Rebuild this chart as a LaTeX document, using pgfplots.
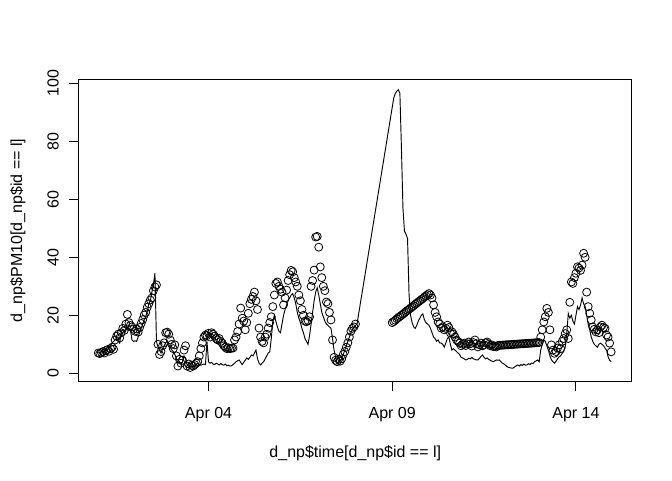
\documentclass[border=0pt]{standalone}
\usepackage{fontspec}
\setmainfont{Liberation Sans}
\usepackage{pgfplots}
\usepackage{pgfplotstable}
\pgfplotsset{compat=1.18}
% hours since Apr 01 00:00, observed PM10
\pgfplotstableread{
h v
0 7.0
1 6.8
2 7.2
3 7.5
4 7.0
5 7.8
6 8.2
7 7.6
8 8.5
9 9.0
10 8.3
11 11.5
12 12.8
13 13.5
14 12.2
15 14.0
16 15.5
17 14.8
18 17.0
19 20.3
20 17.5
21 16.5
22 16.0
23 15.2
24 14.5
25 15.3
26 14.2
27 15.8
28 17.2
29 18.5
30 20.1
31 21.0
32 22.8
33 24.0
34 25.3
35 26.0
36 28.5
37 29.8
38 30.5
39 10.0
40 6.5
41 7.5
42 9.5
43 10.5
44 14.0
45 14.2
46 13.5
47 11.5
48 10.0
49 8.5
50 9.8
51 6.0
52 2.5
53 4.8
54 3.5
55 4.5
56 8.0
57 9.5
58 2.5
59 3.2
60 2.0
61 2.8
62 2.5
63 3.0
64 3.5
65 4.0
66 6.0
67 8.5
68 10.5
69 12.5
70 13.2
71 13.0
72 13.8
73 12.5
74 14.0
75 13.5
76 12.8
77 12.0
78 11.5
79 12.0
80 11.0
81 10.4
82 9.5
83 9.0
84 8.5
85 8.8
86 8.5
87 8.7
88 8.7
89 11.5
90 12.5
91 14.4
92 17.0
93 22.5
94 19.0
95 18.0
96 15.0
97 17.5
98 20.7
99 24.0
100 25.5
101 26.5
102 28.0
103 25.0
104 22.0
105 15.6
106 12.5
107 11.0
108 10.5
109 12.5
110 13.5
111 15.6
112 17.5
113 19.5
114 23.0
115 27.0
116 31.0
117 31.5
118 30.0
119 29.0
120 28.0
121 23.6
122 26.0
123 28.7
124 32.0
125 34.0
126 35.5
127 35.0
128 33.0
129 31.5
130 30.0
131 27.0
132 25.0
133 22.0
134 20.0
135 18.0
136 17.8
137 18.2
138 19.5
139 30.0
140 32.0
141 35.6
142 47.0
143 47.2
144 43.5
145 36.7
146 33.0
147 30.0
148 28.5
149 24.6
150 24.0
151 21.0
152 18.4
153 11.5
154 5.5
155 4.5
156 4.0
157 4.8
158 4.2
159 5.0
160 6.5
161 7.5
162 9.0
163 10.5
164 12.5
165 14.5
166 15.5
167 16.0
168 17.0
192 17.5
193 17.9
194 18.3
195 18.8
196 19.2
197 19.6
198 20.0
199 20.4
200 20.8
201 21.3
202 21.7
203 22.1
204 22.5
205 22.9
206 23.3
207 23.8
208 24.2
209 24.6
210 25.0
211 25.4
212 25.8
213 26.3
214 26.7
215 27.1
216 27.5
217 27.0
218 26.0
219 23.6
220 21.0
221 19.5
222 17.7
223 17.0
224 15.6
225 16.0
226 15.0
227 15.5
228 16.6
229 15.8
230 13.9
231 14.3
232 13.5
233 12.5
234 11.5
235 11.0
236 10.4
237 9.5
238 10.0
239 10.4
240 9.6
241 10.2
242 10.8
243 10.2
244 9.4
245 10.6
246 11.5
247 10.2
248 9.1
249 9.8
250 10.4
251 9.5
252 9.8
253 10.5
254 10.8
255 10.0
256 9.5
257 9.8
258 9.2
259 9.4
260 9.1
261 9.60
262 9.64
263 9.67
264 9.71
265 9.75
266 9.79
267 9.82
268 9.86
269 9.90
270 9.93
271 9.97
272 10.01
273 10.04
274 10.08
275 10.12
276 10.16
277 10.19
278 10.23
279 10.27
280 10.30
281 10.34
282 10.38
283 10.41
284 10.45
285 10.49
286 10.53
287 10.56
288 10.60
289 12.5
290 15.0
291 17.7
292 19.5
293 22.4
294 21.0
295 15.0
296 9.8
297 8.0
298 6.9
299 7.5
300 8.7
301 9.8
302 8.5
303 11.0
304 12.0
305 13.7
306 15.0
307 12.0
308 24.5
309 31.5
310 31.0
311 33.0
312 34.5
313 36.7
314 36.3
315 35.5
316 37.3
317 41.4
318 40.0
319 28.0
320 23.0
321 20.7
322 18.4
323 16.0
324 15.2
325 14.3
326 15.0
327 14.0
328 16.0
329 16.6
330 15.8
331 15.5
332 13.2
333 12.5
334 10.4
335 7.4
}\obs
% second series drawn as a line
\pgfplotstableread{
h v
0 7.0
1 7.2
2 7.5
3 7.3
4 7.8
5 8.2
6 8.0
7 8.8
8 9.5
9 10.5
10 11.0
11 11.5
12 12.0
13 11.2
14 10.4
15 14.5
16 15.0
17 14.0
18 15.5
19 15.0
20 14.8
21 15.0
22 11.5
23 11.0
24 11.2
25 11.0
26 12.5
27 14.0
28 15.5
29 17.0
30 18.5
31 19.5
32 21.5
33 24.0
34 25.0
35 28.0
36 30.5
37 34.5
38 11.0
39 9.0
40 8.0
41 7.0
42 8.5
43 9.5
44 10.5
45 11.0
46 10.0
47 9.0
48 8.0
49 7.5
50 6.5
51 5.0
52 3.5
53 4.0
54 3.0
55 4.0
56 6.0
57 5.0
58 3.0
59 2.5
60 2.0
61 2.5
62 2.2
63 3.0
64 3.0
65 3.5
66 3.0
67 2.8
68 3.0
69 3.2
70 3.0
71 11.0
72 4.0
73 3.5
74 3.8
75 3.2
76 3.0
77 3.5
78 3.2
79 2.9
80 3.4
81 3.0
82 2.8
83 3.2
84 2.6
85 2.8
86 2.5
87 2.6
88 3.0
89 3.5
90 4.0
91 4.3
92 4.6
93 3.8
94 3.0
95 3.8
96 4.5
97 5.3
98 4.8
99 5.5
100 6.3
101 6.0
102 7.0
103 8.0
104 5.0
105 3.5
106 2.9
107 3.5
108 4.0
109 5.0
110 6.0
111 7.0
112 7.4
113 12.0
114 18.0
115 20.0
116 18.0
117 16.0
118 14.5
119 14.0
120 17.0
121 20.0
122 22.0
123 23.5
124 25.0
125 26.0
126 27.0
127 27.5
128 26.0
129 24.0
130 21.0
131 19.0
132 17.5
133 15.5
134 14.0
135 12.0
136 11.0
137 10.0
138 13.0
139 17.0
140 21.0
141 25.0
142 28.0
143 29.5
144 27.0
145 24.0
146 21.0
147 19.5
148 18.0
149 17.0
150 16.5
151 16.0
152 15.5
153 12.0
154 8.0
155 5.5
156 3.5
157 3.8
158 4.2
159 5.0
160 6.5
161 8.0
162 9.5
163 11.0
164 12.5
165 14.0
166 15.0
167 16.0
168 16.5
169 17.0
193 95.0
194 96.5
195 97.3
196 97.8
197 96.6
198 78.0
199 57.0
200 49.0
201 48.0
202 46.5
203 27.0
204 20.0
205 17.5
206 16.0
207 15.5
208 16.5
209 18.0
210 19.0
211 20.0
212 20.5
213 18.5
214 17.5
215 17.0
216 16.5
217 15.5
218 14.0
219 12.5
220 12.0
221 11.0
222 11.5
223 10.5
224 10.4
225 10.0
226 9.0
227 10.5
228 12.0
229 12.5
230 10.0
231 8.0
232 8.5
233 8.0
234 7.5
235 7.0
236 6.5
237 5.5
238 5.3
239 5.0
240 4.6
241 4.8
242 5.2
243 5.0
244 5.5
245 5.0
246 4.8
247 4.6
248 4.6
249 5.2
250 5.8
251 6.3
252 5.5
253 5.0
254 5.3
255 4.8
256 4.5
257 4.2
258 4.0
259 4.3
260 4.6
261 4.5
262 4.6
263 4.0
264 3.5
265 3.2
266 2.8
267 2.3
268 2.0
269 1.9
270 1.8
271 1.8
272 2.2
273 2.6
274 2.9
275 2.5
276 3.0
277 2.7
278 3.2
279 2.8
280 2.9
281 3.3
282 3.0
283 3.5
284 3.4
285 4.0
286 4.3
287 4.6
288 4.0
289 8.0
290 10.0
291 11.5
292 11.0
293 9.5
294 8.0
295 6.0
296 4.6
297 4.0
298 3.5
299 4.2
300 5.0
301 5.7
302 6.0
303 6.9
304 7.5
305 9.0
306 13.7
307 20.6
308 19.0
309 20.0
310 18.0
311 17.0
312 20.0
313 23.0
314 22.0
315 23.5
316 26.0
317 24.0
318 23.0
319 20.0
320 17.0
321 15.0
322 12.5
323 11.0
324 10.0
325 9.5
326 9.0
327 10.0
328 10.4
329 10.0
330 9.5
331 8.7
332 8.0
333 5.7
334 4.5
335 4.0
}\model
\begin{document}
\fontsize{12}{14}\selectfont
\begin{tikzpicture}
\begin{axis}[
  at={(0,0)}, anchor=south west,
  scale only axis, width=414.5pt, height=227pt,
  xmin=-12.6, xmax=348.4, ymin=-2.9, ymax=101.5,
  xtick={72,192,312}, xticklabels={Apr 04,Apr 09,Apr 14},
  ytick={0,20,40,60,80,100},
  tick pos=left, tick align=outside, major tick length=7.2pt,
  tick style={black, line width=0.75pt},
  axis line style={black, line width=0.75pt},
  /pgf/number format/assume math mode=true,
  every tick label/.append style={font=\fontsize{12}{14}\selectfont},
  xticklabel style={anchor=north, inner sep=0pt},
  yticklabel style={rotate=90, anchor=base, inner sep=0pt},
  xticklabel shift=12pt,
  yticklabel shift=8pt,
  label style={font=\fontsize{12}{14}\selectfont},
  xlabel={d\_np\$time[d\_np\$id == l]},
  ylabel={d\_np\$PM10[d\_np\$id == l]},
  xlabel style={at={(axis description cs:0.5,0)}, anchor=base, yshift=-57pt, inner sep=0pt},
  ylabel style={at={(axis description cs:-0.1031,0.5)}, anchor=base, inner sep=0pt},
]
\addplot[only marks, mark=o, mark size=3.0pt, mark options={line width=0.6pt, black}] table[x=h, y=v] {\obs};
\addplot[black, line width=0.7pt, mark=none] table[x=h, y=v] {\model};
\end{axis}
\pgfresetboundingbox
\path (-59.25pt,-73.725pt) rectangle (444.75pt,286.275pt);
\end{tikzpicture}
\end{document}
